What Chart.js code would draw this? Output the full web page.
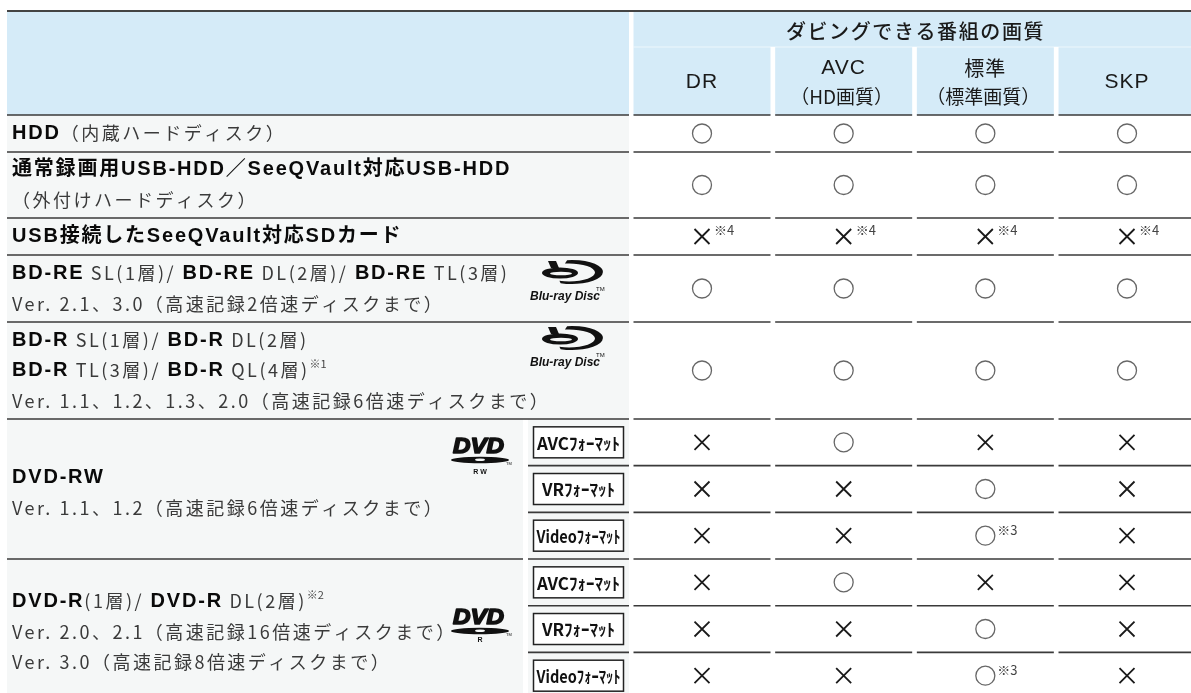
<!DOCTYPE html>
<html><head><meta charset="utf-8">
<script src="https://cdn.jsdelivr.net/npm/chart.js@4.4.1/dist/chart.umd.min.js"></script>
<style>html,body{margin:0;padding:0;background:#fff;overflow:hidden}#wrap{width:1191px;height:693px;position:relative}</style>
</head><body><div id="wrap"><canvas id="c"></canvas></div>
<script>
// ---------- DATA ----------
const groupTitle = 'ダビングできる番組の画質';
const columns = ['DR', 'AVC', '標準', 'SKP'];
const columnSub = ['', '（HD画質）', '（標準画質）', ''];

// media labels: each is a list of lines, each line a list of [text, style]  (b=bold, r=regular, s=superscript)
const mediaLabels = [
  [[['HDD', 'b'], ['（内蔵ハードディスク）', 'r']]],
  [[['通常録画用USB-HDD／SeeQVault対応USB-HDD', 'b']], [['（外付けハードディスク）', 'r']]],
  [[['USB接続したSeeQVault対応SDカード', 'b']]],
  [[['BD-RE', 'b'], [' SL(1層)/ ', 'r'], ['BD-RE', 'b'], [' DL(2層)/ ', 'r'], ['BD-RE', 'b'], [' TL(3層)', 'r']],
   [['Ver. 2.1、3.0（高速記録2倍速ディスクまで）', 'r']]],
  [[['BD-R', 'b'], [' SL(1層)/ ', 'r'], ['BD-R', 'b'], [' DL(2層)', 'r']],
   [['BD-R', 'b'], [' TL(3層)/ ', 'r'], ['BD-R', 'b'], [' QL(4層)', 'r'], ['※1', 's']],
   [['Ver. 1.1、1.2、1.3、2.0（高速記録6倍速ディスクまで）', 'r']]],
  [[['DVD-RW', 'b']], [['Ver. 1.1、1.2（高速記録6倍速ディスクまで）', 'r']]],
  [[['DVD-R', 'b'], ['(1層)/ ', 'r'], ['DVD-R', 'b'], [' DL(2層)', 'r'], ['※2', 's']],
   [['Ver. 2.0、2.1（高速記録16倍速ディスクまで）', 'r']],
   [['Ver. 3.0（高速記録8倍速ディスクまで）', 'r']]]
];
const mediaRowSpan = [1, 1, 1, 1, 1, 3, 3];
const mediaLogo = [null, null, null, 'bd', 'bd', 'dvd-rw', 'dvd-r'];

// one entry per table row (DVD rows are split by recording format)
const formats = ['', '', '', '', '', 'AVCﾌｫｰﾏｯﾄ', 'VRﾌｫｰﾏｯﾄ', 'Videoﾌｫｰﾏｯﾄ', 'AVCﾌｫｰﾏｯﾄ', 'VRﾌｫｰﾏｯﾄ', 'Videoﾌｫｰﾏｯﾄ'];
const markDR  = ['○', '○', '×', '○', '○', '×', '×', '×', '×', '×', '×'];
const markAVC = ['○', '○', '×', '○', '○', '○', '×', '×', '○', '×', '×'];
const markStd = ['○', '○', '×', '○', '○', '×', '○', '○', '×', '○', '○'];
const markSKP = ['○', '○', '×', '○', '○', '×', '×', '×', '×', '×', '×'];
const noteDR  = ['', '', '※4', '', '', '', '', '', '', '', ''];
const noteAVC = ['', '', '※4', '', '', '', '', '', '', '', ''];
const noteStd = ['', '', '※4', '', '', '', '', '※3', '', '', '※3'];
const noteSKP = ['', '', '※4', '', '', '', '', '', '', '', ''];
const marks = [markDR, markAVC, markStd, markSKP];
const notes = [noteDR, noteAVC, noteStd, noteSKP];

// ---------- LAYOUT ----------
const W = 1191, H = 693;
const LX = { tableLeft: 7, labelRight: 629, labelAreaRight: 523, fmtLeft: 528, textLeft: 12,
  col0: 702, colStep: 141.67, colHalf: 68.5, right: W };
const LY = { top: 11, subTop: 47, headBottom: 115, lineGap: 30.5,
  rowHeights: [37, 66, 37, 67, 97, 46.67, 46.67, 46.67, 46.67, 46.67, 46.67] };
const mediaTextShift = [0, 0, 0, 0, 0, 4, 3];
const logoPos = { 3: [540, 262], 4: [540, 328], 5: [453, 437], 6: [453, 608] };

const rowEdges = [LY.headBottom];
LY.rowHeights.forEach(h => rowEdges.push(rowEdges[rowEdges.length - 1] + h));
const rowMid = r => (rowEdges[r] + rowEdges[r + 1]) / 2;
const colCenter = i => LX.col0 + i * LX.colStep;
const mediaStart = []; { let s = 0; mediaRowSpan.forEach(n => { mediaStart.push(s); s += n; }); }

const C_HEAD = '#d5ebf8', C_LABEL = '#f5f7f7', C_LINE = '#3a3a3a';
const FB = s => `bold ${s}px "Liberation Sans", "Noto Sans CJK JP", sans-serif`;
const FR = s => `${s}px "Noto Sans CJK JP", sans-serif`;
const FL = s => `${s}px "Liberation Sans", "Noto Sans CJK JP", sans-serif`;

function hline(ctx, x0, x1, y, w, col) {
  ctx.beginPath(); ctx.moveTo(x0, y); ctx.lineTo(x1, y);
  ctx.lineWidth = w || 1.6; ctx.strokeStyle = col || C_LINE; ctx.stroke();
}

function drawRich(ctx, segs, x, y) {
  ctx.textBaseline = 'middle'; ctx.textAlign = 'left';
  for (const [t, st] of segs) {
    if (st === 's') {
      ctx.font = FR(11); ctx.letterSpacing = '0px'; ctx.fillStyle = '#444';
      ctx.fillText(t, x, y - 7);
      x += ctx.measureText(t).width + 1; continue;
    }
    ctx.font = st === 'b' ? FB(20) : FR(18);
    ctx.letterSpacing = st === 'b' ? '1.8px' : '2.5px';
    ctx.fillStyle = st === 'b' ? '#0a0a0a' : '#3a3a3a';
    ctx.fillText(t, x, y);
    x += ctx.measureText(t).width;
  }
  ctx.letterSpacing = '0px';
}

function drawBluray(ctx, x, y) {
  ctx.save();
  ctx.fillStyle = '#111';
  ctx.beginPath();
  ctx.ellipse(x + 32, y + 10, 31, 12, 0, -Math.PI * 0.55, Math.PI * 0.62);
  ctx.ellipse(x + 29, y + 10.5, 26, 9, 0, Math.PI * 0.62, -Math.PI * 0.55, true);
  ctx.closePath(); ctx.fill();
  ctx.beginPath(); ctx.ellipse(x + 20, y + 11, 18, 5.5, 0, 0, Math.PI * 2); ctx.fill();
  ctx.beginPath(); ctx.moveTo(x + 8, y - 1); ctx.lineTo(x + 16, y - 1); ctx.lineTo(x + 19, y + 6); ctx.lineTo(x + 11, y + 6); ctx.closePath(); ctx.fill();
  ctx.fillStyle = '#f5f7f7';
  ctx.beginPath(); ctx.ellipse(x + 21, y + 11.5, 11, 1.8, 0, 0, Math.PI * 2); ctx.fill();
  ctx.fillStyle = '#111';
  ctx.font = 'bold italic 12px "Liberation Sans", sans-serif';
  ctx.textBaseline = 'alphabetic'; ctx.textAlign = 'left';
  ctx.fillText('Blu-ray Disc', x - 10, y + 38, 73);
  ctx.font = '6px "Liberation Sans", sans-serif';
  ctx.fillText('TM', x + 56, y + 29);
  ctx.restore();
}

function drawDVD(ctx, x, y, sub) {
  ctx.save();
  ctx.fillStyle = '#111'; ctx.strokeStyle = '#111'; ctx.lineWidth = 1.6; ctx.lineJoin = 'round';
  ctx.save(); ctx.translate(x, y + 16); ctx.scale(1.1, 1.0);
  ctx.font = 'bold italic 22px "Liberation Sans", sans-serif';
  ctx.textBaseline = 'alphabetic'; ctx.textAlign = 'left';
  ctx.fillText('DVD', 0, 0); ctx.strokeText('DVD', 0, 0);
  ctx.restore();
  ctx.beginPath(); ctx.ellipse(x + 27, y + 23, 29, 3.3, 0, 0, Math.PI * 2); ctx.fill();
  ctx.fillStyle = '#f5f7f7';
  ctx.beginPath(); ctx.ellipse(x + 27, y + 22.8, 5, 1.3, 0, 0, Math.PI * 2); ctx.fill();
  ctx.fillStyle = '#111';
  ctx.font = 'bold 7px "Liberation Sans", sans-serif';
  ctx.textAlign = 'center'; ctx.textBaseline = 'middle';
  ctx.fillText(sub, x + 27, y + (sub.length > 1 ? 35 : 32));
  ctx.font = '4px "Liberation Sans", sans-serif';
  ctx.fillText('TM', x + 56, y + 27);
  ctx.restore();
}

const tablePlugin = {
  id: 'tableGrid',
  beforeDatasetsDraw(chart) {
    const ctx = chart.ctx, sx = chart.scales.x, sy = chart.scales.y;
    const X = v => sx.getPixelForValue(v), Y = v => sy.getPixelForValue(v);
    const bottom = rowEdges[rowEdges.length - 1];
    ctx.save();
    ctx.fillStyle = C_HEAD;
    ctx.fillRect(X(LX.tableLeft), Y(LY.top), X(LX.right) - X(LX.tableLeft), Y(LY.headBottom) - Y(LY.top));
    ctx.fillStyle = '#ffffff';
    ctx.fillRect(X(LX.labelRight), Y(LY.top), X(colCenter(0) - LX.colHalf) - X(LX.labelRight), Y(LY.headBottom) - Y(LY.top));
    for (let i = 0; i < columns.length - 1; i++) {
      const a = colCenter(i) + LX.colHalf, b = colCenter(i + 1) - LX.colHalf;
      ctx.fillRect(X(a), Y(LY.subTop), X(b) - X(a), Y(LY.headBottom) - Y(LY.subTop));
    }
    hline(ctx, X(colCenter(0) - LX.colHalf), X(LX.right), Y(LY.subTop), 1, 'rgba(255,255,255,0.6)');
    ctx.fillStyle = C_LABEL;
    ctx.fillRect(X(LX.tableLeft), Y(LY.headBottom), X(LX.labelRight) - X(LX.tableLeft), Y(bottom) - Y(LY.headBottom));
    const dvdTop = rowEdges[mediaStart[5]];
    ctx.fillStyle = '#ffffff';
    ctx.fillRect(X(LX.labelAreaRight), Y(dvdTop), X(LX.fmtLeft) - X(LX.labelAreaRight), Y(bottom) - Y(dvdTop));
    hline(ctx, X(LX.tableLeft), X(LX.right), Y(LY.top), 2.2, '#444');
    // header texts
    ctx.fillStyle = '#1a1a1a'; ctx.textAlign = 'center'; ctx.textBaseline = 'middle';
    ctx.font = `500 20px "Noto Sans CJK JP", sans-serif`; ctx.letterSpacing = '1.6px';
    ctx.fillText(groupTitle, X((colCenter(0) + colCenter(3)) / 2) + 1, Y(31));
    ctx.letterSpacing = '1px';
    columns.forEach((c, i) => {
      const cx = X(colCenter(i));
      const latin = /^[A-Za-z]+$/.test(c);
      if (columnSub[i]) {
        ctx.font = latin ? FL(21) : FR(20);
        ctx.fillText(c, cx, Y(68));
        ctx.font = FR(19); ctx.letterSpacing = '0px';
        ctx.fillText(columnSub[i], cx - 2, Y(97));
        ctx.letterSpacing = '1px';
      } else {
        ctx.font = FL(21);
        ctx.fillText(c, cx, Y(82));
      }
    });
    ctx.letterSpacing = '0px';
    const edgeSet = new Set(mediaStart.concat([rowEdges.length - 1]));
    rowEdges.forEach((e, k) => {
      const inDvd = k > mediaStart[5];
      if (edgeSet.has(k)) {
        hline(ctx, X(LX.tableLeft), X(inDvd ? LX.labelAreaRight : LX.labelRight), Y(e));
        if (inDvd) hline(ctx, X(LX.fmtLeft), X(LX.labelRight), Y(e));
      } else {
        hline(ctx, X(LX.fmtLeft), X(LX.labelRight), Y(e));
      }
      columns.forEach((c, i) => hline(ctx, X(colCenter(i) - LX.colHalf), X(Math.min(colCenter(i) + LX.colHalf, LX.right)), Y(e)));
    });
    mediaLabels.forEach((lines, m) => {
      const r0 = mediaStart[m], r1 = r0 + mediaRowSpan[m];
      const mid = (rowEdges[r0] + rowEdges[r1]) / 2 + mediaTextShift[m];
      lines.forEach((segs, k) => {
        const y = mid + (k - (lines.length - 1) / 2) * LY.lineGap;
        drawRich(ctx, segs, X(LX.textLeft), Y(y));
      });
      const lg = mediaLogo[m];
      if (lg) {
        const [lx, ly] = logoPos[m];
        if (lg === 'bd') drawBluray(ctx, X(lx), Y(ly));
        else drawDVD(ctx, X(lx), Y(ly), lg === 'dvd-rw' ? 'R W' : 'R');
      }
    });
    formats.forEach((f, r) => {
      if (!f) return;
      const cx = X((LX.fmtLeft + LX.labelRight) / 2), cy = Y(rowMid(r));
      ctx.fillStyle = '#fff'; ctx.strokeStyle = '#222'; ctx.lineWidth = 1.5;
      ctx.fillRect(cx - 45, cy - 15.5, 90, 31); ctx.strokeRect(cx - 45, cy - 15.5, 90, 31);
      ctx.fillStyle = '#111'; ctx.font = 'bold 17px "Noto Sans CJK JP", sans-serif';
      ctx.textAlign = 'center'; ctx.textBaseline = 'middle';
      ctx.fillText(f, cx, cy + 1, 84);
    });
    ctx.restore();
  },
  afterDatasetsDraw(chart) {
    const ctx = chart.ctx;
    ctx.save();
    ctx.fillStyle = '#444'; ctx.font = FR(13); ctx.textAlign = 'left'; ctx.textBaseline = 'middle';
    chart.data.datasets.forEach((ds, i) => {
      const meta = chart.getDatasetMeta(i);
      meta.data.forEach((pt, r) => {
        const n = notes[i][r];
        if (n) ctx.fillText(n, pt.x + 12, pt.y - 6);
      });
    });
    ctx.restore();
  }
};

new Chart(document.getElementById('c'), {
  type: 'scatter',
  data: {
    datasets: columns.map((c, i) => ({
      label: c,
      data: marks[i].map((m, r) => ({ x: colCenter(i), y: rowMid(r) })),
      pointStyle: marks[i].map(m => m === '○' ? 'circle' : 'crossRot'),
      pointRadius: marks[i].map(m => m === '○' ? 9.5 : 10.6),
      pointHoverRadius: marks[i].map(m => m === '○' ? 9.5 : 10.6),
      pointBorderColor: marks[i].map(m => m === '○' ? '#666' : '#1a1a1a'),
      pointBorderWidth: marks[i].map(m => m === '○' ? 1.3 : 1.8),
      pointBackgroundColor: '#ffffff',
      clip: false
    }))
  },
  options: {
    responsive: true, maintainAspectRatio: false, animation: false, events: [],
    layout: { padding: 0, autoPadding: false },
    plugins: { legend: { display: false }, tooltip: { enabled: false } },
    scales: {
      x: { type: 'linear', display: false, min: 0, max: W },
      y: { type: 'linear', display: false, min: 0, max: H, reverse: true }
    }
  },
  plugins: [tablePlugin]
});
</script>
</body></html>
